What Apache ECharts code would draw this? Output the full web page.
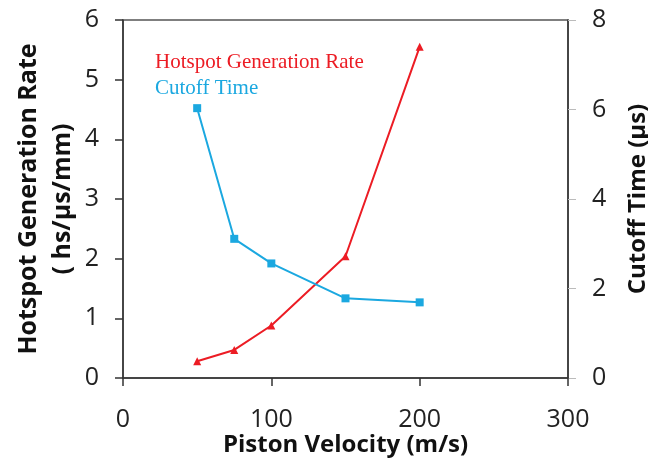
<!DOCTYPE html>
<html><head><meta charset="utf-8">
<script src="https://cdn.jsdelivr.net/npm/echarts@6/dist/echarts.min.js"></script>
<style>html,body{margin:0;padding:0;background:#fff}#c{width:648px;height:461px}</style>
</head><body><div id="c"></div>
<script>
const velocity = [50, 75, 100, 150, 200];
const hotspotRate = [0.28, 0.47, 0.88, 2.04, 5.55];
const cutoffTime = [6.03, 3.11, 2.56, 1.78, 1.69];
const xTicks = [0, 100, 200, 300];
const leftTicks = [0, 1, 2, 3, 4, 5, 6];
const rightTicks = [0, 2, 4, 6, 8];

const red = '#ec1c24', blue = '#1ba8e0';
const chart = echarts.init(document.getElementById('c'));
const tickFont = {fontFamily: 'Open Sans', fontSize: 25, color: '#222'};
const titleFont = {fontFamily: 'Open Sans', fontSize: 25, fontWeight: 'bold', color: '#111', lineHeight: 34};
chart.setOption({
  animation: false,
  grid: {left: 123, right: 80, top: 20, bottom: 83, containLabel: false, outerBoundsMode: 'none',
         show: true, borderColor: '#555', borderWidth: 1.5, backgroundColor: 'transparent'},
  legend: {
    orient: 'vertical', left: 145, top: 47, icon: 'none', itemGap: 5, itemWidth: 0,
    textStyle: {fontFamily: 'Liberation Serif', fontSize: 21},
    data: [{name: 'Hotspot Generation Rate', textStyle: {color: red}}, {name: 'Cutoff Time', textStyle: {color: blue}}]
  },
  xAxis: {
    type: 'value', min: xTicks[0], max: xTicks[xTicks.length - 1], interval: 100,
    name: 'Piston Velocity (m/s)', nameLocation: 'middle', nameGap: 55, nameMoveOverlap: false,
    nameTextStyle: {fontFamily: 'Open Sans', fontSize: 24, fontWeight: 'bold', color: '#111'},
    axisLine: {lineStyle: {color: '#333', width: 1.5}},
    axisTick: {show: true, inside: false, length: 8, lineStyle: {color: '#333', width: 1.5}},
    axisLabel: Object.assign({margin: 29}, tickFont),
    splitLine: {show: false}
  },
  yAxis: [{
    type: 'value', min: leftTicks[0], max: leftTicks[leftTicks.length - 1], interval: 1,
    name: 'Hotspot Generation Rate\n( hs/μs/mm)', nameLocation: 'middle', nameGap: 43, nameRotate: 90,
    nameMoveOverlap: false,
    nameTextStyle: titleFont,
    axisLine: {show: true, lineStyle: {color: '#333', width: 1.5}},
    axisTick: {show: true, length: 8, lineStyle: {color: '#333', width: 1.5}},
    axisLabel: Object.assign({margin: 24}, tickFont),
    splitLine: {show: false}
  }, {
    type: 'value', position: 'right', min: rightTicks[0], max: rightTicks[rightTicks.length - 1], interval: 2,
    name: 'Cutoff Time (μs)', nameLocation: 'middle', nameGap: 58, nameRotate: 90, nameMoveOverlap: false,
    nameTextStyle: {fontFamily: 'Open Sans', fontSize: 24, fontWeight: 'bold', color: '#111'},
    axisLine: {show: true, lineStyle: {color: '#333', width: 1.5}},
    axisTick: {show: true, length: 8, lineStyle: {color: '#bbb', width: 1}},
    axisLabel: Object.assign({margin: 24}, tickFont),
    splitLine: {show: false}
  }],
  series: [{
    name: 'Hotspot Generation Rate', type: 'line', yAxisIndex: 0,
    data: velocity.map((v, i) => [v, hotspotRate[i]]),
    symbol: 'triangle', symbolSize: 8,
    lineStyle: {color: red, width: 2}, itemStyle: {color: red}
  }, {
    name: 'Cutoff Time', type: 'line', yAxisIndex: 1,
    data: velocity.map((v, i) => [v, cutoffTime[i]]),
    symbol: 'rect', symbolSize: 8,
    lineStyle: {color: blue, width: 2}, itemStyle: {color: blue}
  }]
});
</script></body></html>
